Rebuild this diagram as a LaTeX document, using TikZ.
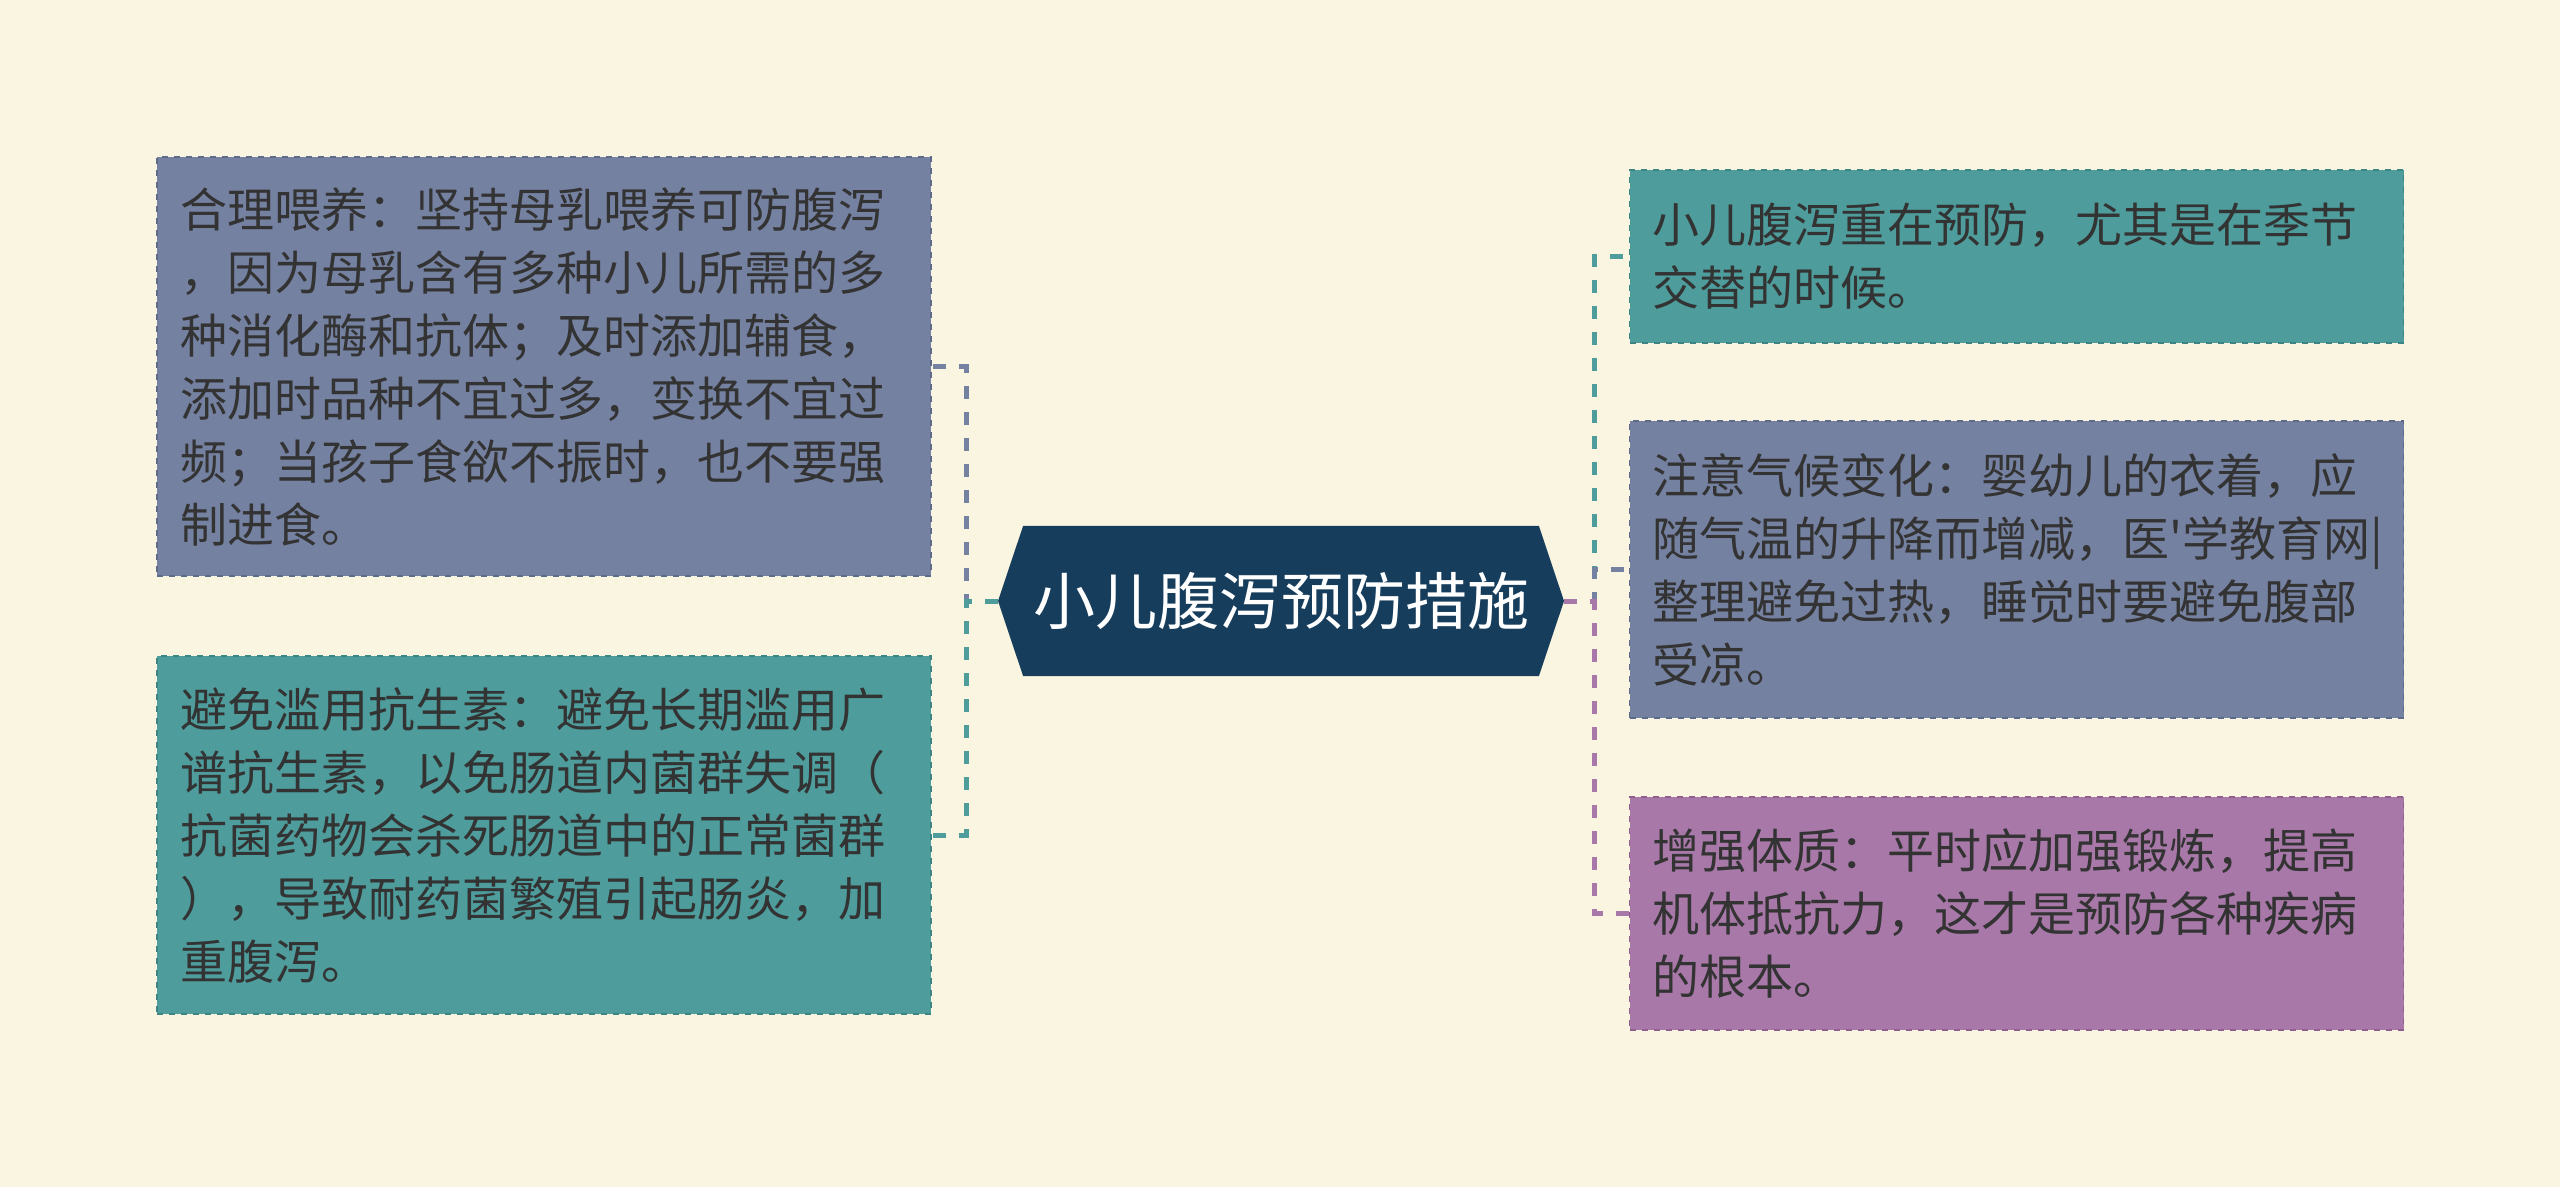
\documentclass[tikz,border=0pt]{standalone}
\usepackage{fontspec}
\setmainfont{Noto Sans CJK SC}[Ligatures=TeXOff]
\usetikzlibrary{shapes.symbols}
\definecolor{bgcream}{HTML}{FAF5E1}
\definecolor{slatefill}{HTML}{7581A1}
\definecolor{slateline}{HTML}{5E6A8A}
\definecolor{tealfill}{HTML}{4E9C9C}
\definecolor{tealline}{HTML}{3D8484}
\definecolor{purplefill}{HTML}{A878A8}
\definecolor{purpleline}{HTML}{8E5F8F}
\definecolor{hubnavy}{HTML}{173D5C}
\definecolor{inkgray}{HTML}{333333}

\begin{document}
\begin{tikzpicture}[x=0.5pt,y=-0.5pt,
  leaf/.style={draw, dashed, line width=0.8pt, text=inkgray, align=left,
    text width=364pt, inner xsep=11.5pt, inner ysep=0pt,
    font=\fontsize{23.5}{31.5}\selectfont},
  link/.style={line width=2.5pt, dash pattern=on 6.5pt off 6.5pt}]
\fill[bgcream] (0,0) rectangle (2560,1187);
\useasboundingbox (0,0) rectangle (2560,1187);

\node[signal, signal to=west and east, signal pointer angle=143, fill=hubnavy,
  text=white, font=\fontsize{31}{31}\selectfont, minimum width=283pt,
  minimum height=75pt, inner sep=0pt] (hub) at (1281,601) {小儿腹泻预防措施};

\node[leaf, fill=slatefill, draw=slateline, minimum height=209.5pt] (feed) at (544,366.5)
  {合理喂养：坚持母乳喂养可防腹泻\\，因为母乳含有多种小儿所需的多\\种消化酶和抗体；及时添加辅食，\\添加时品种不宜过多，变换不宜过\\频；当孩子食欲不振时，也不要强\\制进食。};
\node[leaf, fill=tealfill, draw=tealline, minimum height=179pt] (drug) at (544,835)
  {避免滥用抗生素：避免长期滥用广\\谱抗生素，以免肠道内菌群失调（\\抗菌药物会杀死肠道中的正常菌群\\），导致耐药菌繁殖引起肠炎，加\\重腹泻。};
\node[leaf, fill=tealfill, draw=tealline, minimum height=86.5pt] (season) at (2016.5,256.5)
  {小儿腹泻重在预防，尤其是在季节\\交替的时候。};
\node[leaf, fill=slatefill, draw=slateline, minimum height=148.5pt] (climate) at (2016.5,569.5)
  {注意气候变化：婴幼儿的衣着，应\\随气温的升降而增减，医'学教育网|\\整理避免过热，睡觉时要避免腹部\\受凉。};
\node[leaf, fill=purplefill, draw=purpleline, minimum height=116.5pt] (body) at (2016.5,913.5)
  {增强体质：平时应加强锻炼，提高\\机体抵抗力，这才是预防各种疾病\\的根本。};

\coordinate (lbus) at (966,601);
\coordinate (rbus) at (1594,601);

\path[draw,link,slatefill] (hub.west) -- (lbus) |- (feed.east);
\path[draw,link,tealfill] (hub.west) -- (lbus) |- (drug.east);
\path[draw,link,tealfill] (hub.east) -- (rbus) |- (season.west);
\path[draw,link,slatefill] (hub.east) -- (rbus) |- (climate.west);
\path[draw,link,purplefill] (hub.east) -- (rbus) |- (body.west);

\end{tikzpicture}
\end{document}
